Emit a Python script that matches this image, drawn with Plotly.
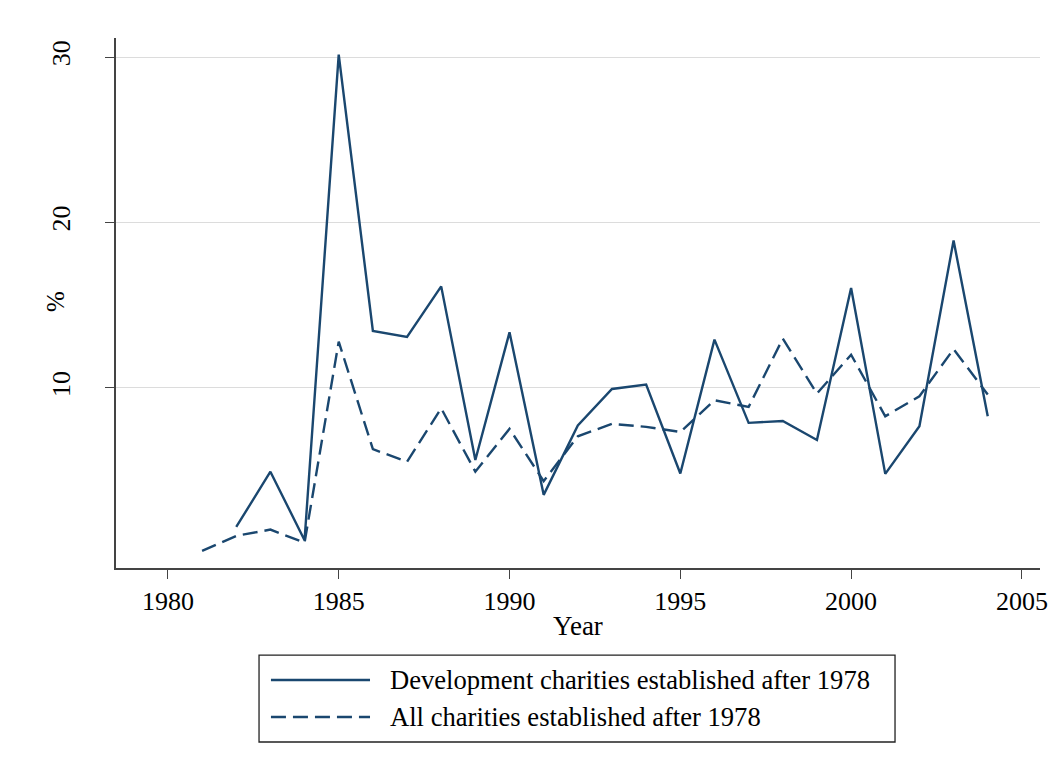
import plotly.graph_objects as go

years = list(range(1981, 2005))
dev_years = list(range(1982, 2005))
dev_values = [1.6, 4.94, 0.8, 30.15, 13.45, 13.08, 16.14, 5.65, 13.36, 3.54, 7.73, 9.94,
              10.2, 4.83, 12.92, 7.89, 8.0, 6.86, 16.04, 4.81, 7.69, 18.91, 8.29]
all_values = [0.15, 1.06, 1.44, 0.65, 12.8, 6.3, 5.54, 8.77, 4.94, 7.53, 4.37, 7.08, 7.83,
              7.65, 7.34, 9.26, 8.85, 12.98, 9.66, 12.01, 8.29, 9.5, 12.35, 9.6]
x_ticks = [1980, 1985, 1990, 1995, 2000, 2005]
y_ticks = [10, 20, 30]
series_names = ["Development charities established after 1978",
                "All charities established after 1978"]

navy = "#1a476f"
dash_style = "15px,7px"
font_family = "Liberation Serif, Times New Roman, serif"

fig = go.Figure()
fig.add_trace(go.Scatter(x=dev_years, y=dev_values, mode="lines", name=series_names[0],
                         line=dict(color=navy, width=2.4), showlegend=False))
fig.add_trace(go.Scatter(x=years, y=all_values, mode="lines", name=series_names[1],
                         line=dict(color=navy, width=2.4, dash=dash_style), showlegend=False))

# Legend box drawn in paper coordinates (below the plot area)
box = dict(x0=0.1548, x1=0.8431, y0=-0.3283, y1=-0.1642)
fig.add_shape(type="rect", xref="paper", yref="paper", **box,
              line=dict(color="#222", width=1.3), fillcolor="white", layer="above")
rows_y = [-0.2113, -0.2811]
dashes = ["solid", dash_style]
for name, ry, d in zip(series_names, rows_y, dashes):
    fig.add_shape(type="line", xref="paper", yref="paper", x0=0.1677, x1=0.2749,
                  y0=ry, y1=ry, line=dict(color=navy, width=2.6, dash=d))
    fig.add_annotation(text=name, xref="paper", yref="paper", x=0.2944, y=ry,
                       xanchor="left", yanchor="middle", showarrow=False,
                       font=dict(size=26.6, family=font_family, color="black"))

# y-axis title "%"
fig.add_annotation(text="%", xref="paper", yref="paper", x=-0.0649, y=0.502,
                   xanchor="center", yanchor="middle", showarrow=False, textangle=-90,
                   font=dict(size=25, family=font_family, color="black"))

fig.update_layout(
    width=1063, height=773,
    margin=dict(l=108, r=31, t=30, b=213),
    paper_bgcolor="white", plot_bgcolor="white",
    font=dict(family=font_family, size=26, color="black"),
    showlegend=False,
    xaxis=dict(range=[1978.48, 2005.53], tickvals=x_ticks, ticks="outside",
               ticklen=9, tickcolor="#444", tickwidth=1.3, showline=True, linecolor="#444",
               linewidth=1.5, showgrid=False, zeroline=False,
               title=dict(text="Year", standoff=1, font=dict(size=27)),
               tickfont=dict(size=26)),
    yaxis=dict(range=[-0.88, 31.15], tickvals=y_ticks, ticks="outside",
               ticklen=9, tickcolor="#444", tickwidth=1.3, showline=True, linecolor="#444",
               linewidth=1.5, showgrid=True, gridcolor="#dcdcdc", gridwidth=1,
               zeroline=False, tickangle=-90, ticklabelstandoff=25,
               tickfont=dict(size=26)),
)

fig.write_html("out.html")
